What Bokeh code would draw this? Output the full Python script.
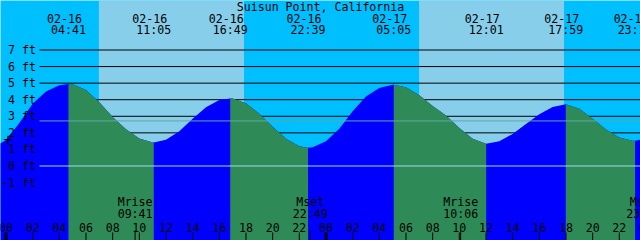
from bokeh.plotting import figure
from bokeh.models import Range1d
from bokeh.core.properties import value
from bokeh.embed import file_html
from bokeh.resources import INLINE

# ---------------- data ----------------
TITLE = "Suisun Point, California"

# hours since 02-16 00:00 and tide height (ft)
hours = [-1, 0, 1, 2, 3, 4, 5, 6, 7, 8, 9, 10, 11, 12, 13, 14, 15, 16, 17, 18,
         19, 20, 21, 22, 23, 24, 25, 26, 27, 28, 29, 30, 31, 32, 33, 34, 35, 36,
         37, 38, 39, 40, 41, 42, 43, 44, 45, 46, 47, 48]
tide_ft = [1.12, 1.55, 2.60, 3.75, 4.50, 4.88, 4.93, 4.59, 3.85, 2.95, 2.22, 1.66,
           1.42, 1.58, 2.09, 2.85, 3.55, 3.98, 4.07, 3.79, 3.16, 2.37, 1.65, 1.19,
           1.13, 1.50, 2.25, 3.30, 4.20, 4.70, 4.90, 4.75, 4.27, 3.62, 3.05, 2.30,
           1.65, 1.35, 1.50, 1.93, 2.53, 3.13, 3.56, 3.72, 3.45, 2.85, 2.20, 1.72,
           1.53, 1.65]

# high / low tide events
event_hours = [4.683, 11.083, 16.817, 22.65, 29.083, 36.017, 41.983, 47.183]
event_ft = [4.95, 1.42, 4.08, 1.10, 4.90, 1.34, 3.72, 1.52]
event_dates = ["02-16", "02-16", "02-16", "02-16", "02-17", "02-17", "02-17", "02-17"]
event_clock = ["04:41", "11:05", "16:49", "22:39", "05:05", "12:01", "17:59", "23:11"]

# daylight (sunrise -> sunset), hours
sunrise_hours = [6.967, 30.983]
sunset_hours = [17.85, 41.85]

# moon events
moon_hours = [9.683, 22.817, 34.1, 47.833]
moon_names = ["Mrise", "Mset", "Mrise", "Mset"]
moon_clock = ["09:41", "22:49", "10:06", "23:50"]

ft_levels = [-1, 0, 1, 2, 3, 4, 5, 6, 7]
ft_labels = ["-1 ft", "0 ft", "1 ft", "2 ft", "3 ft", "4 ft", "5 ft", "6 ft", "7 ft"]
grid_levels = [1, 2, 3, 4, 5, 6, 7]
mean_level_ft = 2.72

hour_ticks = [0, 2, 4, 6, 8, 10, 12, 14, 16, 18, 20, 22, 24, 26, 28, 30, 32, 34,
              36, 38, 40, 42, 44, 46, 48]
hour_labels = ["00", "02", "04", "06", "08", "10", "12", "14", "16", "18", "20", "22",
               "00", "02", "04", "06", "08", "10", "12", "14", "16", "18", "20", "22", "00"]
midnight_hours = [0, 24, 48]

# ---------------- layout (pixels) ----------------
W, H = 640, 240
X0, PXH = 5.5, 13.333      # px of hour 0, px per hour
Y0, PXF = 165.5, 16.571    # px (from top) of 0 ft, px per ft


def tx(px):
    return (px - X0) / PXH


def ty(py):
    return (Y0 - py) / PXF


NIGHT = "#00BFFF"
DAY = "#87CEEB"
RISE = "#0000FF"
FALL = "#2E8B57"
FONT = value("DejaVu Sans Mono")
FS = "11.6px"

xr = Range1d(tx(0), tx(W))
yr = Range1d(ty(H), ty(0))

p = figure(width=W, height=H, x_range=xr, y_range=yr, x_axis_type=None,
           y_axis_type=None, toolbar_location=None, output_backend="svg",
           min_border=0, outline_line_color=None)
p.grid.visible = False
p.background_fill_color = NIGHT
p.border_fill_color = NIGHT

# daylight bands
p.quad(left=sunrise_hours, right=sunset_hours, bottom=yr.start, top=yr.end,
       fill_color=DAY, line_color=None)

# grid lines (behind water)
n = len(grid_levels)
p.segment(x0=[tx(39)] * n, x1=[tx(W)] * n, y0=grid_levels, y1=grid_levels,
          line_color="black", line_width=1)

# water: merge hourly readings with event points
pts = sorted(set(zip(hours + event_hours, tide_ft + event_ft)))
bounds = [hours[0]] + event_hours + [hours[-1]]
p.varea(x=[t for t, _ in pts], y1=yr.start, y2=[h for _, h in pts], fill_color=RISE)
for a, b in zip(bounds[:-1], bounds[1:]):
    seg = [(t, h) for t, h in pts if a <= t <= b]
    if len(seg) < 2:
        continue
    if seg[-1][1] < seg[0][1]:
        p.varea(x=[t for t, _ in seg], y1=yr.start, y2=[h for _, h in seg],
                fill_color=FALL)

# zero and mean lines over water
p.segment(x0=[tx(39)], x1=[tx(W)], y0=[0], y1=[0], line_color="#A8D8EC", line_width=1)
p.segment(x0=[tx(39)], x1=[tx(W)], y0=[mean_level_ft], y1=[mean_level_ft],
          line_color="#5FA8A0", line_width=1)

# y labels
p.text(x=[tx(35.5)] * len(ft_levels), y=ft_levels, text=ft_labels, text_font=FONT,
       text_font_size=FS, text_align="right", text_baseline="middle", text_color="black")

# "+" marker
p.text(x=[tx(7.5)], y=[ty(138.5)], text=["+"], text_font=FONT, text_font_size="15px",
       text_align="center", text_baseline="middle", text_color="black")

# title
p.text(x=[tx(320)], y=[ty(6)], text=[TITLE], text_font=FONT, text_font_size=FS,
       text_align="center", text_baseline="middle", text_color="black")

# event labels on top
p.text(x=event_hours, y=[ty(17.5)] * len(event_hours), text=event_dates, x_offset=-4,
       text_font=FONT, text_font_size=FS, text_align="center", text_baseline="middle",
       text_color="black")
p.text(x=event_hours, y=[ty(29.5)] * len(event_hours), text=event_clock,
       text_font=FONT, text_font_size=FS, text_align="center", text_baseline="middle",
       text_color="black")

# moon labels
p.text(x=moon_hours, y=[ty(201.5)] * len(moon_hours), text=moon_names,
       text_font=FONT, text_font_size=FS, text_align="center", text_baseline="middle",
       text_color="black")
p.text(x=moon_hours, y=[ty(213.5)] * len(moon_hours), text=moon_clock,
       text_font=FONT, text_font_size=FS, text_align="center", text_baseline="middle",
       text_color="black")
p.segment(x0=moon_hours, x1=moon_hours, y0=[ty(230)] * len(moon_hours),
          y1=[ty(240)] * len(moon_hours), line_color="black", line_width=1)

# hour tick labels and ticks
p.text(x=hour_ticks, y=[ty(226.5)] * len(hour_ticks), text=hour_labels,
       text_font=FONT, text_font_size=FS, text_align="center", text_baseline="middle",
       text_color="black")
p.segment(x0=hour_ticks, x1=hour_ticks, y0=[ty(232)] * len(hour_ticks),
          y1=[ty(240)] * len(hour_ticks), line_color="black", line_width=1)
p.segment(x0=midnight_hours, x1=midnight_hours, y0=[ty(232)] * len(midnight_hours),
          y1=[ty(240)] * len(midnight_hours), line_color="black", line_width=3)

open("out.html", "w").write(file_html(p, INLINE))
